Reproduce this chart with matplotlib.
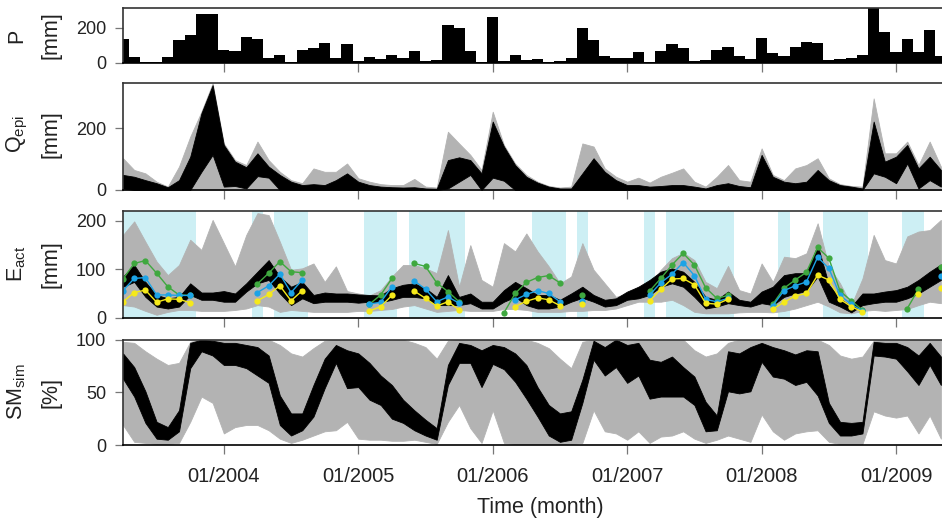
import numpy as np
import matplotlib
matplotlib.use('Agg')
import matplotlib.pyplot as plt

plt.rcParams['font.family'] = ['Liberation Sans', 'DejaVu Sans']
plt.rcParams['mathtext.fontset'] = 'custom'
plt.rcParams['mathtext.rm'] = 'Liberation Sans'
plt.rcParams['mathtext.it'] = 'Liberation Sans'

nan = np.nan

# Monthly time axis: index 0 = 04/2003 ... 73 = 05/2009
months = np.arange(74)
tick_pos = [9, 21, 33, 45, 57, 69]
tick_labels = ['01/2004', '01/2005', '01/2006', '01/2007', '01/2008', '01/2009']

# Precipitation [mm]
P = [135, 34, 6, 6, 30, 131, 158, 276, 276, 70, 65, 149, 135, 29, 42, 6, 70, 86, 110, 25,
     105, 11, 32, 21, 42, 27, 67, 10, 15, 215, 200, 67, 6, 259, 11, 42, 15, 19, 6, 11,
     25, 200, 131, 36, 25, 25, 59, 6, 65, 105, 82, 10, 15, 74, 90, 36, 21, 139, 55, 36,
     90, 120, 114, 15, 19, 25, 44, 320, 173, 59, 135, 59, 185, 40]

# Epikarst outflow, ensemble envelope (grey) and behavioural runs (black)
Q_grey_hi = [103, 65, 54, 27, 11, 76, 173, 254, 346, 151, 97, 81, 157, 97, 59, 32, 22, 70, 59, 59,
             86, 38, 27, 19, 16, 16, 36, 11, 8, 189, 151, 114, 65, 254, 146, 86, 49, 27, 13, 8,
             11, 151, 141, 70, 43, 27, 40, 24, 43, 56, 70, 27, 11, 43, 81, 32, 27, 135, 49, 32,
             70, 81, 103, 38, 19, 13, 11, 297, 119, 119, 157, 81, 157, 76]
Q_blk_hi = [49, 43, 32, 22, 9, 32, 108, 249, 340, 146, 92, 74, 119, 76, 49, 27, 16, 19, 16, 32,
            54, 27, 16, 11, 9, 8, 9, 5, 4, 97, 106, 97, 54, 222, 141, 81, 43, 24, 11, 5,
            5, 54, 103, 59, 32, 16, 16, 11, 13, 16, 16, 11, 5, 16, 22, 13, 9, 114, 43, 27,
            22, 27, 65, 32, 16, 11, 5, 222, 92, 108, 146, 70, 108, 65]
Q_blk_lo = [5, 0, 0, 0, 0, 0, 0, 59, 114, 11, 13, 5, 45, 40, 0, 0, 0, 0, 0, 0,
            0, 0, 0, 0, 0, 0, 0, 0, 0, 5, 27, 49, 0, 40, 30, 0, 0, 0, 0, 0,
            0, 0, 0, 0, 0, 0, 0, 0, 0, 0, 0, 0, 0, 0, 0, 0, 0, 0, 0, 0,
            0, 0, 0, 0, 0, 0, 0, 54, 43, 22, 86, 5, 32, 11]

# Actual evapotranspiration
E_grey_hi = [171, 199, 157, 116, 88, 109, 161, 140, 202, 154, 106, 171, 216, 212, 157, 99, 102, 112, 74, 106,
             55, 50, 46, 57, 85, 109, 109, 102, 92, 181, 64, 150, 78, 64, 154, 137, 174, 137, 106, 71,
             85, 154, 99, 71, 43, 50, 64, 68, 99, 123, 134, 119, 74, 61, 107, 57, 50, 112, 74, 126,
             123, 133, 195, 106, 71, 26, 81, 171, 119, 112, 168, 178, 181, 202]
E_grey_lo = [26, 23, 14, 6, 12, 16, 16, 14, 14, 14, 16, 19, 26, 23, 12, 16, 14, 12, 12, 12,
             12, 14, 14, 16, 18, 23, 26, 19, 12, 14, 16, 14, 14, 14, 18, 18, 16, 12, 12, 12,
             14, 14, 16, 16, 19, 26, 33, 33, 33, 37, 26, 12, 9, 9, 9, 11, 12, 12, 11, 14,
             19, 26, 33, 23, 11, 9, 14, 16, 14, 16, 18, 26, 33, 30]
E_blk_hi = [85, 109, 74, 47, 40, 43, 71, 52, 52, 55, 50, 71, 95, 119, 85, 64, 74, 47, 52, 50,
            50, 48, 47, 46, 61, 68, 71, 61, 43, 88, 43, 50, 33, 33, 57, 74, 61, 47, 47, 37,
            50, 64, 47, 37, 40, 54, 64, 78, 95, 102, 95, 74, 43, 37, 54, 37, 33, 54, 64, 88,
            92, 92, 150, 68, 40, 23, 50, 50, 54, 57, 64, 78, 95, 110]
E_blk_lo = [64, 74, 43, 23, 19, 23, 47, 37, 37, 33, 33, 54, 71, 78, 50, 26, 40, 30, 33, 33,
            33, 31, 33, 32, 37, 43, 43, 40, 26, 26, 26, 30, 19, 19, 33, 43, 26, 19, 19, 23,
            33, 41, 33, 23, 26, 37, 40, 47, 64, 71, 64, 43, 19, 23, 30, 26, 23, 30, 26, 43,
            50, 55, 85, 33, 23, 11, 26, 30, 33, 33, 40, 50, 64, 78]

# Observation-based estimates (gaps = no data)
E_obs_green = [80, 112, 118, 92, 64, 47, 46, nan, nan, nan, nan, nan, 70, 92, 116, 95, 93, nan, nan, nan,
               nan, nan, 28, 47, 81, nan, 112, 106, 72, 54, 33, nan, nan, nan, 10, 50, 73, 83, 87, 72,
               nan, 46, nan, nan, nan, nan, nan, 55, 81, 109, 133, 109, 62, 40, 46, nan, nan, nan, 28, 61,
               78, 94, 145, 123, 55, 35, 16, nan, nan, nan, 19, 59, nan, 105]
E_obs_blue = [56, 81, 83, 47, 47, 46, 46, nan, nan, nan, nan, nan, 52, 66, 90, 52, 78, nan, nan, nan,
              nan, nan, 28, 32, 64, nan, 76, 59, 33, 43, 30, nan, nan, nan, nan, 37, 48, 56, 50, 33,
              nan, 35, nan, nan, nan, nan, nan, 47, 72, 90, 114, 87, 38, 33, 40, nan, nan, nan, 25, 56,
              66, 74, 125, 102, 46, 28, 14, nan, nan, nan, nan, nan, nan, 87]
E_obs_yellow = [33, 52, 57, 32, 39, 38, 31, nan, nan, nan, nan, nan, 35, 48, 66, 35, 56, nan, nan, nan,
                nan, nan, 14, 23, 46, nan, 55, 40, 24, 33, 16, nan, nan, nan, nan, 23, 34, 41, 37, 25,
                nan, 28, nan, nan, nan, nan, nan, 35, 59, 80, 81, 68, 30, 28, 38, nan, nan, nan, 18, 32,
                45, 50, 88, 78, 38, 23, 12, nan, nan, nan, nan, 48, nan, 62]
# months highlighted in light blue
E_shade_months = [0, 1, 2, 3, 4, 5, 6, 12, 14, 15, 16, 22, 23, 24, 26, 27, 28, 29, 30,
                  37, 38, 39, 41, 47, 49, 50, 51, 52, 53, 54, 59, 63, 64, 65, 66, 70, 71]

# Simulated soil moisture [%]
SM_grey_hi = [98, 97, 89, 82, 76, 78, 98, 100, 100, 100, 100, 100, 100, 100, 95, 87, 84, 92, 99, 100,
              100, 100, 100, 100, 100, 100, 97, 93, 82, 99, 100, 100, 100, 100, 100, 100, 100, 97, 92, 82,
              73, 98, 100, 100, 100, 100, 100, 100, 100, 100, 100, 90, 84, 87, 97, 100, 100, 100, 100, 100,
              100, 100, 100, 95, 85, 82, 84, 99, 100, 100, 100, 100, 100, 100]
SM_grey_lo = [19, 3, 2, 1, 1, 2, 22, 46, 40, 11, 17, 19, 19, 14, 6, 2, 5, 9, 13, 14,
              22, 6, 5, 5, 4, 4, 5, 3, 1, 22, 38, 16, 2, 33, 2, 1, 1, 1, 1, 1,
              1, 2, 33, 13, 11, 5, 13, 2, 8, 9, 13, 6, 2, 5, 9, 6, 3, 29, 13, 5,
              11, 13, 14, 3, 1, 1, 1, 32, 28, 26, 28, 11, 28, 6]
SM_blk_hi = [87, 74, 51, 22, 17, 33, 97, 100, 99, 97, 97, 95, 93, 85, 47, 30, 30, 57, 82, 95,
             90, 87, 78, 66, 57, 43, 33, 24, 16, 76, 97, 95, 90, 95, 93, 87, 76, 55, 38, 30,
             32, 62, 99, 93, 100, 95, 97, 81, 79, 84, 74, 65, 41, 28, 89, 87, 93, 97, 93, 90,
             86, 90, 89, 40, 22, 21, 22, 98, 97, 97, 93, 85, 97, 84]
SM_blk_lo = [63, 46, 21, 6, 5, 13, 73, 89, 85, 76, 76, 73, 66, 59, 19, 9, 14, 27, 54, 78,
             54, 55, 43, 38, 25, 21, 14, 9, 5, 57, 78, 78, 55, 77, 72, 60, 44, 27, 9, 3,
             5, 40, 81, 66, 74, 59, 66, 44, 46, 46, 46, 38, 13, 14, 51, 49, 51, 79, 65, 63,
             57, 60, 47, 21, 9, 9, 11, 85, 84, 82, 70, 57, 76, 57]

GREY = '#b3b3b3'
TXT = '#222222'
W, H = 942, 522

fig = plt.figure(figsize=(W / 100, H / 100), dpi=100)


def make_axes(top_px, bot_px):
    ax = fig.add_axes([123 / W, 1 - bot_px / H, (W - 123) / W, (bot_px - top_px) / H])
    ax.set_xlim(0, 73.1)
    ax.set_xticks(tick_pos)
    ax.set_xticklabels([])
    for s in ['left', 'top']:
        ax.spines[s].set_color('#333333')
        ax.spines[s].set_linewidth(1.2)
    ax.spines['bottom'].set_color('black')
    ax.spines['bottom'].set_linewidth(1.2)
    ax.spines['right'].set_visible(False)
    ax.tick_params(axis='y', length=6, width=0.9, color='#777777', labelsize=13,
                   labelcolor=TXT, pad=6)
    ax.tick_params(axis='x', length=6.5, width=0.9, color='#777777', labelsize=14.5,
                   labelcolor=TXT, pad=9)
    return ax


def ylab(text, unit, yc):
    fig.text(17 / W, 1 - yc / H, text, rotation=90, ha='center', va='center',
             fontsize=15.5, color=TXT)
    fig.text(51 / W, 1 - yc / H, unit, rotation=90, ha='center', va='center',
             fontsize=15.5, color=TXT)


# P panel
ax_p = make_axes(8, 62.7)
ax_p.bar(months, P, width=1.0, color='black', linewidth=0)
ax_p.set_ylim(0, 312)
ax_p.set_yticks([0, 200])
ylab('P', '[mm]', 35.5)

# Q panel
ax_q = make_axes(82.7, 190)
ax_q.fill_between(months, 0, Q_grey_hi, color=GREY, linewidth=0.6, edgecolor=GREY)
ax_q.fill_between(months, Q_blk_lo, Q_blk_hi, color='black', linewidth=0.6, edgecolor='black')
ax_q.set_ylim(0, 348)
ax_q.set_yticks([0, 200])
ylab(r'Q$_{\mathrm{epi}}$', '[mm]', 134)

# E panel
ax_e = make_axes(210.7, 317.7)
for m in E_shade_months:
    ax_e.axvspan(m - 0.5, m + 0.5, color='#cdeff4', linewidth=0)
ax_e.fill_between(months, E_grey_lo, E_grey_hi, color=GREY, linewidth=0.6, edgecolor=GREY)
ax_e.fill_between(months, E_blk_lo, E_blk_hi, color='black', linewidth=0.6, edgecolor='black')
ax_e.plot(months, E_obs_green, '-o', color='#3fa83f', lw=1, ms=4.5, mew=0)
ax_e.plot(months, E_obs_blue, '-o', color='#1ca3e6', lw=1, ms=4.5, mew=0)
ax_e.plot(months, E_obs_yellow, '-o', color='#f5e91a', lw=1, ms=4.5, mew=0)
ax_e.set_ylim(0, 221)
ax_e.set_yticks([0, 100, 200])
ylab(r'E$_{\mathrm{act}}$', '[mm]', 264)

# SM panel
ax_s = make_axes(339.7, 445)
ax_s.fill_between(months, SM_grey_lo, SM_grey_hi, color=GREY, linewidth=0.6, edgecolor=GREY)
ax_s.fill_between(months, SM_blk_lo, SM_blk_hi, color='black', linewidth=0.6, edgecolor='black')
ax_s.set_ylim(0, 100)
ax_s.set_yticks([0, 50, 100])
ax_s.set_xticklabels(tick_labels)
ylab(r'SM$_{\mathrm{sim}}$', '[%]', 392)

fig.text(540 / W, 1 - 507 / H, 'Time (month)', ha='center', va='center',
         fontsize=15.5, color=TXT)

fig.savefig('out.png', dpi=100)
